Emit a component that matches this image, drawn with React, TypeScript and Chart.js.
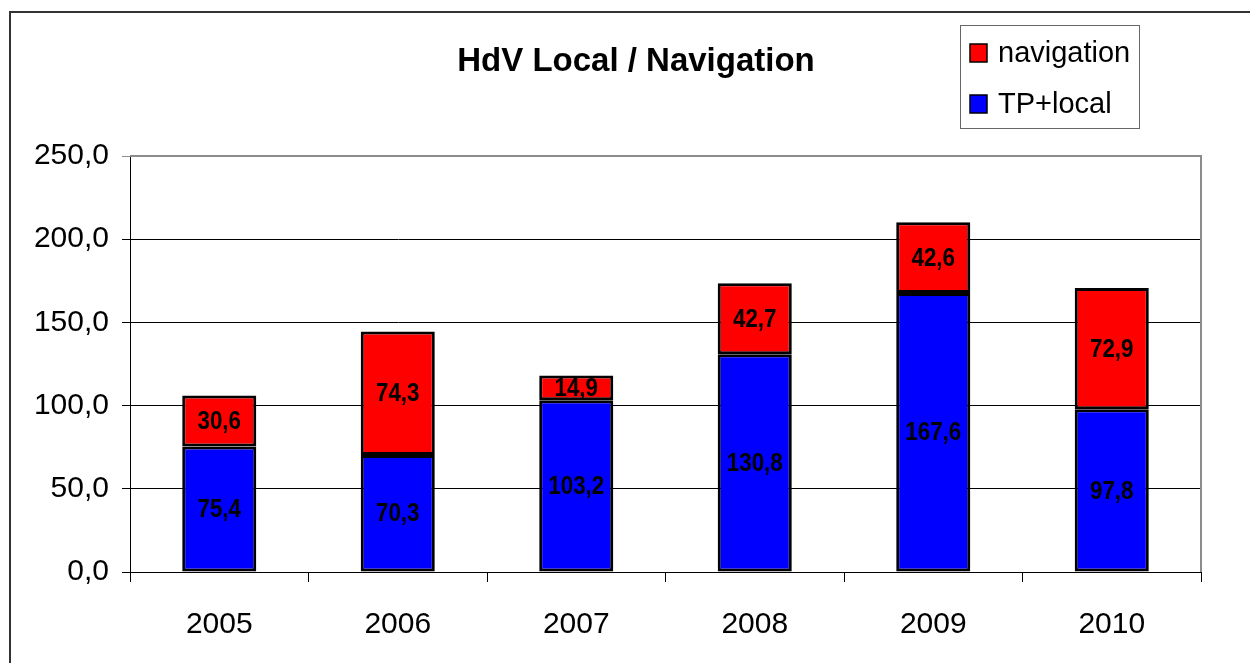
import React, { useEffect, useRef } from "react";
import { Chart, registerables } from "chart.js";

Chart.register(...registerables);

const categories = ["2005", "2006", "2007", "2008", "2009", "2010"];
const tpLocal = [75.4, 70.3, 103.2, 130.8, 167.6, 97.8];
const navigation = [30.6, 74.3, 14.9, 42.7, 42.6, 72.9];
const yTicks = [0, 50, 100, 150, 200, 250];
const titleText = "HdV Local / Navigation";
const seriesNames = ["TP+local", "navigation"];
const seriesColors = ["#0000ff", "#ff0000"];

const FONT = "'Liberation Sans', Arial, Helvetica, sans-serif";
const fmt = (v: number) => v.toFixed(1).replace(".", ",");

const decorPlugin = {
  id: "decor",
  afterDatasetsDraw(chart: any) {
    const ctx = chart.ctx;
    chart.data.datasets.forEach((ds: any, di: number) => {
      const meta = chart.getDatasetMeta(di);
      meta.data.forEach((el: any, i: number) => {
        const { x, y, base } = el.getProps(["x", "y", "base"], true);
        ctx.save();
        ctx.translate(x, (y + base) / 2 + 1);
        ctx.scale(0.86, 1);
        ctx.font = `bold 26px ${FONT}`;
        ctx.fillStyle = "#000";
        ctx.textAlign = "center";
        ctx.textBaseline = "middle";
        ctx.fillText(fmt(ds.data[i]), 0, 0);
        ctx.restore();
      });
    });
  },
  afterDraw(chart: any) {
    const ctx = chart.ctx;
    const a = chart.chartArea;
    ctx.save();
    // plot border top/right (gray)
    ctx.strokeStyle = "#8c8c8c";
    ctx.lineWidth = 2;
    ctx.beginPath();
    ctx.moveTo(a.left, a.top);
    ctx.lineTo(a.right, a.top);
    ctx.lineTo(a.right, a.bottom);
    ctx.stroke();
    // outer frame
    ctx.strokeStyle = "#333";
    ctx.lineWidth = 2;
    ctx.beginPath();
    ctx.moveTo(10, 700);
    ctx.lineTo(10, 12);
    ctx.lineTo(1260, 12);
    ctx.stroke();
    // title
    ctx.fillStyle = "#000";
    ctx.font = `bold 33px ${FONT}`;
    ctx.textAlign = "center";
    ctx.textBaseline = "alphabetic";
    ctx.fillText(titleText, 636, 71);
    // legend
    const lx = 960, ly = 25, lw = 179, lh = 103;
    ctx.fillStyle = "#fff";
    ctx.fillRect(lx, ly, lw, lh);
    ctx.strokeStyle = "#666";
    ctx.lineWidth = 1;
    ctx.strokeRect(lx + 0.5, ly + 0.5, lw, lh);
    const order = [1, 0];
    ctx.font = `29px ${FONT}`;
    ctx.textAlign = "left";
    order.forEach((si, k) => {
      const cy = 53 + k * 51;
      ctx.fillStyle = seriesColors[si];
      ctx.fillRect(970, cy - 9, 17, 18);
      ctx.strokeStyle = "#000";
      ctx.lineWidth = 1.5;
      ctx.strokeRect(970, cy - 9, 17, 18);
      ctx.fillStyle = "#000";
      ctx.textBaseline = "middle";
      ctx.fillText(seriesNames[si], 998, cy + 1);
    });
    ctx.restore();
  },
};

export default function App() {
  const ref = useRef<HTMLCanvasElement | null>(null);
  useEffect(() => {
    if (!ref.current) return;
    const chart = new Chart(ref.current, {
      type: "bar",
      data: {
        labels: categories,
        datasets: [
          {
            label: seriesNames[0],
            data: tpLocal,
            backgroundColor: seriesColors[0],
            borderColor: "#000",
            borderWidth: 3,
            borderSkipped: false,
          },
          {
            label: seriesNames[1],
            data: navigation,
            backgroundColor: seriesColors[1],
            borderColor: "#000",
            borderWidth: 3,
            borderSkipped: false,
          },
        ],
      },
      options: {
        responsive: false,
        animation: false,
        devicePixelRatio: 1,
        barPercentage: 0.415,
        categoryPercentage: 1,
        layout: { padding: { top: 156, right: 49, left: 0, bottom: 0 } },
        plugins: {
          legend: { display: false },
          title: { display: false },
          tooltip: { enabled: false },
        },
        scales: {
          x: {
            stacked: true,
            grid: {
              offset: true,
              drawOnChartArea: false,
              color: "#000",
              tickLength: 10,
            },
            border: { display: true, color: "#000", width: 1 },
            ticks: {
              color: "#000",
              font: { family: FONT, size: 30 },
              padding: 25,
            },
            afterFit: (s: any) => {
              s.height = 91;
            },
          },
          y: {
            stacked: true,
            min: 0,
            max: 250,
            afterBuildTicks: (s: any) => {
              s.ticks = yTicks.map((v) => ({ value: v }));
            },
            grid: {
              color: (c: any) => (c.tick && c.tick.value === 250 ? "#8c8c8c" : "#000"),
              lineWidth: 1,
              tickLength: 8,
            },
            border: { display: true, color: "#000", width: 1 },
            ticks: {
              color: "#000",
              font: { family: FONT, size: 30 },
              padding: 13,
              callback: (v: any) => fmt(Number(v)),
            },
            afterFit: (s: any) => {
              s.width = 130;
            },
          },
        },
      },
      plugins: [decorPlugin],
    });
    return () => chart.destroy();
  }, []);
  return (
    <div style={{ position: "fixed", left: 0, top: 0, width: 1250, height: 663, background: "#fff" }}>
      <canvas ref={ref} width={1250} height={663} style={{ display: "block" }} />
    </div>
  );
}
